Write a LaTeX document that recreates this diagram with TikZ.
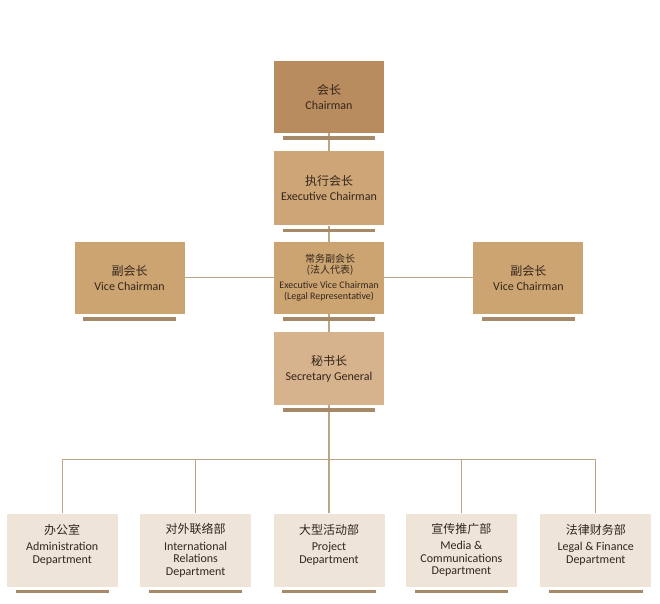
\documentclass[tikz,border=0pt]{standalone}
\usepackage{fontspec}
\setmainfont{Carlito}
\newfontfamily\cjk{Noto Sans CJK SC}
\usetikzlibrary{positioning}
\definecolor{ChairBrown}{RGB}{185, 140, 96}
\definecolor{ExecBrown}{RGB}{206, 165, 118}
\definecolor{ViceBrown}{RGB}{204, 164, 114}
\definecolor{SecBrown}{RGB}{214, 178, 141}
\definecolor{DeptBeige}{RGB}{238, 228, 215}
\definecolor{BarBrown}{RGB}{166, 137, 103}
\definecolor{LinkBrown}{RGB}{188, 164, 134}
\definecolor{TextBrown}{RGB}{52, 38, 28}

\begin{document}
\begin{tikzpicture}[x=1pt, y=-1pt,
      office/.style={rectangle, minimum width=110pt, minimum height=72pt, inner sep=0pt, align=center,
      text=TextBrown, font=\fontsize{12}{12.5}\selectfont},
      dept/.style={office, fill=DeptBeige, minimum width=111pt, minimum height=73pt,
      execute at begin node={\rule{0pt}{31pt}}},
      link/.style={draw=LinkBrown, line width=1.2pt},
      shelf/.style={fill=BarBrown}
    ]
      \fill[white] (0,0) rectangle (660,603);
      \useasboundingbox (0,0) rectangle (660,603);

      \node[office, fill=ChairBrown] (chair) at (329,97) {{\cjk 会长}\\[2.5pt]Chairman};
      \node[office, fill=ExecBrown, minimum height=74pt, below=18pt of chair] (exec) {{\cjk 执行会长}\\[2.5pt]Executive Chairman};
      \node[office, fill=ViceBrown, below=16pt of exec, font=\fontsize{10}{11.5}\selectfont] (evc)
        {{\cjk\fontsize{11.5}{10.5} 常务副会长}\\{\cjk\fontsize{11.5}{10.5} (法人代表)}\\[3pt]Executive Vice Chairman\\(Legal Representative)};
      \node[office, fill=ViceBrown, left=89pt of evc] (vcl) {{\cjk 副会长}\\[2.5pt]Vice Chairman};
      \node[office, fill=ViceBrown, right=89pt of evc] (vcr) {{\cjk 副会长}\\[2.5pt]Vice Chairman};
      \node[office, fill=SecBrown, minimum height=73pt, below=18pt of evc] (sec) {{\cjk 秘书长}\\[2.5pt]Secretary General};

      \node[dept, below=108pt of sec] (proj) {{\cjk 大型活动部}\\[4pt]Project\\Department\\\mbox{}};
      \node[dept, left=22pt of proj] (intl) {{\cjk 对外联络部}\\[4pt]International\\Relations\\Department};
      \node[dept, left=22pt of intl] (admin) {{\cjk 办公室}\\[4pt]Administration\\Department\\\mbox{}};
      \node[dept, right=21pt of proj] (media) {{\cjk 宣传推广部}\\[4pt]Media \&\\Communications\\Department};
      \node[dept, right=23pt of media] (legal) {{\cjk 法律财务部}\\[4pt]Legal \& Finance\\Department\\\mbox{}};

      \coordinate[below=54pt of sec.south] (bus);

      \draw[link] (chair) -- (exec);
      \draw[link] (exec) -- (evc);
      \draw[link] (evc) -- (sec);
      \draw[link] (vcl) -- (evc);
      \draw[link] (evc) -- (vcr);
      \draw[link] (sec) -- (bus);
      \draw[link] (proj) -- (bus);
      \foreach \d in {admin, intl, media, legal}
        \draw[link] (\d.north) |- (bus);

      \foreach \n in {chair, exec, evc, vcl, vcr, sec, admin, intl, proj, media, legal}
        \fill[shelf] ([xshift=9pt, yshift=-3pt]\n.south west) rectangle ([xshift=-9pt, yshift=-6.5pt]\n.south east);
    \end{tikzpicture}
\end{document}
